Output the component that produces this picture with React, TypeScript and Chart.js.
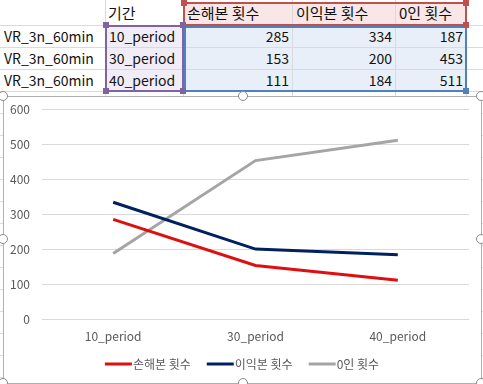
import React, { useEffect, useRef } from "react";
import { Chart, registerables } from "chart.js";

Chart.register(...registerables);

const categories = ["10_period", "30_period", "40_period"];
const rowLabels = ["VR_3n_60min", "VR_3n_60min", "VR_3n_60min"];
const periodHeader = "기간";
const seriesNames = ["손해본 횟수", "이익본 횟수", "0인 횟수"];
const lossCounts = [285, 153, 111];
const profitCounts = [334, 200, 184];
const zeroCounts = [187, 453, 511];
const seriesColors = ["#E00F0F", "#002060", "#A5A5A5"];
const yMin = 0;
const yMax = 600;
const yStep = 100;

const colX = [0, 105, 183, 292, 395, 466, 540];
const rowY = [-10, 25, 47, 69, 91, 113, 135, 157, 179, 201, 223, 245, 267, 289, 311, 333, 355, 377, 399];

const FONT = "'Noto Sans CJK KR', 'Noto Sans', sans-serif";

function Sheet() {
  const allSeries = [lossCounts, profitCounts, zeroCounts];
  const cells: React.ReactNode[] = [];
  for (let i = 1; i < rowY.length; i++) {
    cells.push(
      <div key={"h" + i} style={{ position: "absolute", left: 0, top: rowY[i], width: 483, height: 1, background: "#DADADA" }} />
    );
  }
  for (let i = 1; i < colX.length; i++) {
    cells.push(
      <div key={"v" + i} style={{ position: "absolute", left: colX[i], top: 0, width: 1, height: 384, background: "#DADADA" }} />
    );
  }
  const text = (key: string, x: number, y: number, w: number, s: string, align: "left" | "right", size = 14) => (
    <div
      key={key}
      style={{
        position: "absolute",
        left: x,
        top: y,
        width: w,
        height: 22,
        lineHeight: "22px",
        fontSize: size,
        textAlign: align,
        color: "#111",
        whiteSpace: "nowrap",
        fontFamily: FONT,
      }}
    >
      {s}
    </div>
  );
  cells.unshift(
    <div key="fillHead" style={{ position: "absolute", left: colX[2], top: 2, width: colX[5] - colX[2], height: rowY[1] - 2, background: "#F9E6E6" }} />,
    <div key="fillCat" style={{ position: "absolute", left: colX[1], top: rowY[1], width: colX[2] - colX[1], height: rowY[4] - rowY[1], background: "#F1EDF6" }} />,
    <div key="fillVal" style={{ position: "absolute", left: colX[2], top: rowY[1], width: colX[5] - colX[2], height: rowY[4] - rowY[1], background: "#E9EFF8" }} />
  );
  cells.push(text("hdr", colX[1] + 3, 2, 80, periodHeader, "left", 15));
  seriesNames.forEach((n, i) => cells.push(text("sn" + i, colX[2 + i] + 4, 2, 120, n, "left", 15)));
  rowLabels.forEach((r, i) => {
    cells.push(text("rl" + i, 4, rowY[1 + i], 110, r, "left"));
    cells.push(text("cat" + i, colX[1] + 4, rowY[1 + i], 90, categories[i], "left"));
    allSeries.forEach((s, j) => {
      cells.push(text("v" + i + "_" + j, colX[2 + j], rowY[1 + i], colX[3 + j] - colX[2 + j] - 3, String(s[i]), "right"));
    });
  });
  const rect = (key: string, x1: number, y1: number, x2: number, y2: number, color: string) => (
    <div key={key} style={{ position: "absolute", left: x1, top: y1, width: x2 - x1, height: y2 - y1, border: `2px solid ${color}`, boxSizing: "border-box" }} />
  );
  const sq = (key: string, x: number, y: number, color: string) => (
    <div key={key} style={{ position: "absolute", left: x - 3, top: y - 3, width: 6, height: 6, background: color }} />
  );
  const red = "#C0504D";
  const purple = "#8064A2";
  const blue = "#4F81BD";
  cells.push(rect("rRed", colX[2], 2, colX[5] + 1, rowY[1] + 1, red));
  cells.push(rect("rBlue", colX[2] + 1, rowY[1] + 1, colX[5] + 1, rowY[4] + 1, blue));
  cells.push(rect("rPur", colX[1], rowY[1], colX[2] + 1, rowY[4] + 1, purple));
  cells.push(sq("s1", colX[2] + 1, 3, red), sq("s2", colX[5], 3, red), sq("s3", colX[5], rowY[1], red));
  cells.push(sq("s4", colX[5], rowY[4], blue));
  cells.push(sq("s5", colX[1] + 1, rowY[1], purple), sq("s6", colX[2], rowY[1], purple), sq("s7", colX[1] + 1, rowY[4], purple), sq("s8", colX[2], rowY[4], purple));
  return <>{cells}</>;
}

// Excel-like legend: short line, tiny gap, label; centred row.
const excelLegend = {
  id: "excelLegend",
  afterDraw(chart: any, _args: any, opts: any) {
    const ctx = chart.ctx;
    const ds = chart.data.datasets;
    const lineW = 27;
    const gapText = 1;
    const gapItem = 16;
    ctx.save();
    ctx.font = `12px ${FONT}`;
    ctx.textBaseline = "middle";
    ctx.textAlign = "left";
    const widths = ds.map((d: any) => lineW + gapText + ctx.measureText(d.label).width);
    const total = widths.reduce((a: number, b: number) => a + b, 0) + gapItem * (ds.length - 1);
    let x = opts.centerX - total / 2;
    const y = opts.y;
    ds.forEach((d: any, i: number) => {
      ctx.fillStyle = d.borderColor;
      ctx.fillRect(x, y - 1.5, lineW, 3);
      ctx.fillStyle = "#595959";
      ctx.fillText(d.label, x + lineW + gapText, y + 0.5);
      x += widths[i] + gapItem;
    });
    ctx.restore();
  },
};

const CANVAS_W = 477;
const CANVAS_H = 293;

function LineChart() {
  const ref = useRef<HTMLCanvasElement | null>(null);
  useEffect(() => {
    if (!ref.current) return;
    const datasets = [lossCounts, profitCounts, zeroCounts].map((d, i) => ({
      label: seriesNames[i],
      data: d,
      borderColor: seriesColors[i],
      backgroundColor: seriesColors[i],
      borderWidth: 3,
      pointRadius: 0,
      pointHoverRadius: 0,
      tension: 0,
      fill: false,
    }));
    const chart = new Chart(ref.current, {
      type: "line",
      data: { labels: categories, datasets },
      plugins: [excelLegend],
      options: {
        animation: false,
        responsive: false,
        maintainAspectRatio: false,
        layout: { padding: { left: 0, right: 12, top: 0, bottom: 34 } },
        plugins: {
          tooltip: { enabled: false },
          legend: { display: false },
          excelLegend: { centerX: 238, y: 274 },
        } as any,
        scales: {
          x: {
            offset: true,
            grid: { display: false, drawTicks: false },
            border: { display: false },
            afterFit: (s: any) => {
              s.height = 30;
            },
            ticks: { color: "#595959", font: { family: FONT, size: 12 }, padding: 10, maxRotation: 0 },
          },
          y: {
            min: yMin,
            max: yMax,
            afterFit: (s: any) => {
              s.width = 38;
            },
            grid: { color: "#D9D9D9", drawTicks: false },
            border: { display: false },
            ticks: { stepSize: yStep, color: "#595959", font: { family: FONT, size: 12 }, padding: 12 },
          },
        },
      },
    });
    return () => chart.destroy();
  }, []);
  return (
    <canvas
      ref={ref}
      width={CANVAS_W}
      height={CANVAS_H}
      style={{ position: "absolute", left: 0, top: -7, width: CANVAS_W, height: CANVAS_H }}
    />
  );
}

function Handle({ x, y }: { x: number; y: number }) {
  return (
    <div
      style={{
        position: "absolute",
        left: x - 5,
        top: y - 5,
        width: 10,
        height: 10,
        borderRadius: "50%",
        border: "1px solid #8A8A8A",
        background: "#fff",
        boxSizing: "border-box",
      }}
    />
  );
}

export default function App() {
  const handles = [
    [3, 96], [243, 96], [481, 96],
    [3, 239], [481, 239],
    [3, 383], [243, 383], [481, 383],
  ];
  return (
    <div style={{ position: "fixed", left: 0, top: 0, width: 483, height: 384, overflow: "hidden", background: "#fff", fontFamily: FONT }}>
      <Sheet />
      <div style={{ position: "absolute", left: 3, top: 96, width: 479, height: 288, border: "1px solid #B0B0B0", boxSizing: "border-box", background: "#fff", overflow: "hidden" }}>
        <LineChart />
      </div>
      {handles.map(([x, y], i) => (
        <Handle key={i} x={x} y={y} />
      ))}
    </div>
  );
}
